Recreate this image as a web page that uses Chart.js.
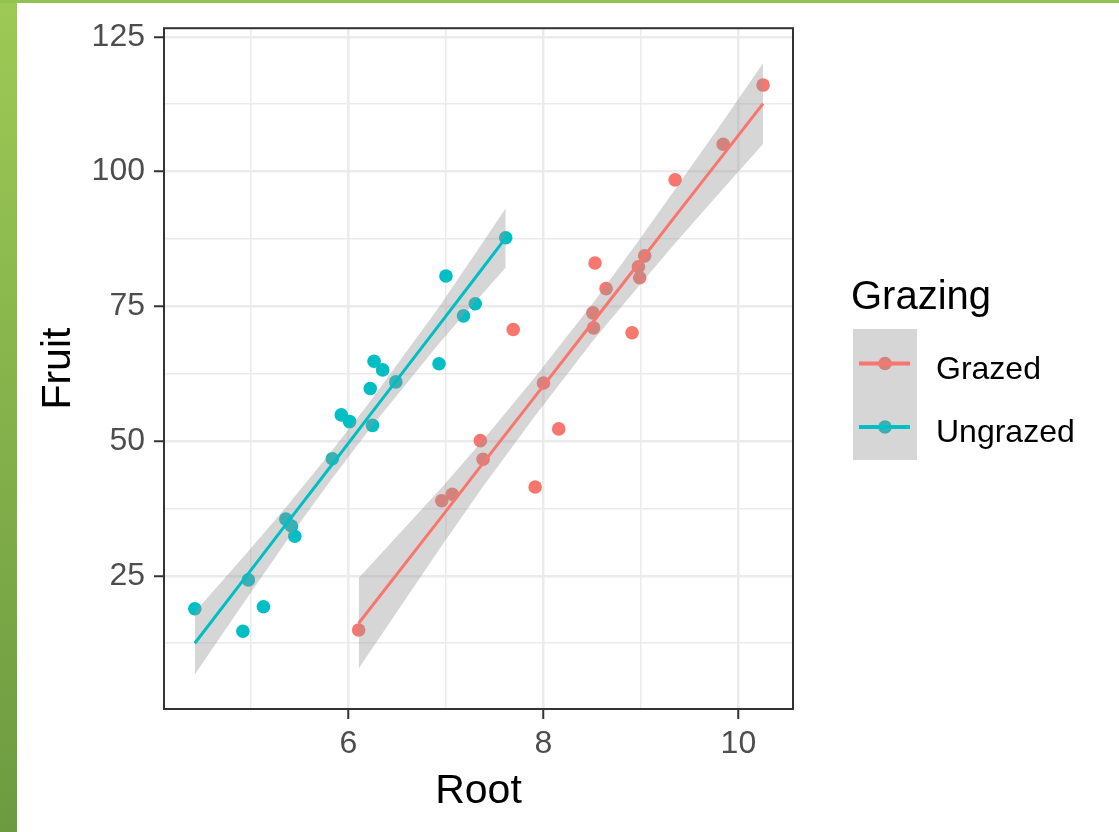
<!DOCTYPE html>
<html>
<head>
<meta charset="utf-8">
<script src="https://cdn.jsdelivr.net/npm/chart.js@4/dist/chart.umd.min.js"></script>
<style>
    html, body { margin: 0; padding: 0; background: #fff; }
    #wrap { position: relative; width: 1119px; height: 832px; overflow: hidden; }
    .edgeLeft { position: absolute; left: 0; top: 0; width: 17px; height: 832px; background: linear-gradient(#9dca55, #6c9a40); }
    .edgeTop { position: absolute; left: 0; top: 0; width: 1119px; height: 3px; background: #92c24f; }
    canvas { position: absolute; left: 0; top: 0; }
</style>
</head>
<body>
<div id="wrap">
    <div class="edgeLeft"></div>
    <div class="edgeTop"></div>
    <canvas id="chart" width="1119" height="832"></canvas>
</div>
<script>
// observed points
const grazedRoot = [10.253, 6.958, 8.001, 9.039, 8.910, 6.106, 7.691, 8.988, 8.975, 9.844,
    8.508, 7.354, 8.643, 7.916, 9.351, 7.066, 8.158, 7.382, 8.515, 8.530];
const grazedFruit = [116.05, 38.94, 60.77, 84.37, 70.11, 14.95, 70.70, 80.31, 82.35, 105.07,
    73.79, 50.08, 78.28, 41.48, 98.47, 40.15, 52.26, 46.64, 71.01, 83.03];
const ungrazedRoot = [6.225, 6.487, 4.919, 5.130, 5.417, 5.359, 7.614, 6.352, 4.975, 6.930,
    6.248, 5.451, 6.013, 5.928, 6.264, 7.181, 7.001, 4.426, 7.302, 5.836];
const ungrazedFruit = [59.77, 60.98, 14.73, 19.28, 34.25, 35.53, 87.73, 63.21, 24.25, 64.34,
    52.92, 32.35, 53.61, 54.86, 64.81, 73.24, 80.64, 18.89, 75.49, 46.73];

// fitted line and confidence band
const grazedFitRoot = [6.106, 6.958, 7.382, 7.916, 8.509, 8.975, 9.351, 9.844, 10.253];
const grazedFit = [16.2, 36.0, 45.9, 58.3, 72.1, 82.9, 91.7, 103.1, 112.6];
const grazedLow = [7.8, 30.6, 41.6, 54.7, 68.6, 78.7, 86.7, 96.8, 105.1];
const grazedHigh = [24.6, 41.4, 50.2, 61.9, 75.6, 87.1, 96.7, 109.4, 120.1];

const ungrazedFitRoot = [4.426, 4.919, 5.359, 5.836, 6.225, 6.930, 7.302, 7.614];
const ungrazedFit = [12.5, 24.1, 34.5, 45.7, 54.9, 71.5, 80.3, 87.7];
const ungrazedLow = [6.7, 19.8, 31.3, 43.1, 52.4, 68.1, 75.8, 82.2];
const ungrazedHigh = [18.3, 28.4, 37.7, 48.3, 57.4, 74.9, 84.8, 93.2];

const groups = ['Grazed', 'Ungrazed'];
const groupColors = ['#F8766D', '#00BFC4'];
const xTickLabels = [6, 8, 10];
const yTickLabels = [25, 50, 75, 100, 125];

const FONT = '"Liberation Sans", Arial, sans-serif';
const BAND = 'rgba(153,153,153,0.4)';

function pts(xs, ys) {
    return xs.map((x, i) => ({ x: x, y: ys[i] }));
}

function pointSet(label, xs, ys, color) {
    return {
        label: label, data: pts(xs, ys), showLine: false, order: 2,
        pointRadius: 6.8, pointBorderWidth: 0, pointBackgroundColor: color
    };
}

function bandSet(xs, ys, fillTarget) {
    return {
        data: pts(xs, ys), order: 1, borderWidth: 0, pointRadius: 0,
        fill: fillTarget === undefined ? false : { target: fillTarget },
        backgroundColor: BAND
    };
}

function lineSet(xs, ys, color) {
    return {
        data: pts(xs, ys), order: 0, borderColor: color, borderWidth: 3,
        pointRadius: 0, fill: false
    };
}

const legendKeys = {
    id: 'legendKeys',
    afterDraw(chart) {
        const { ctx } = chart;
        ctx.save();
        ctx.fillStyle = '#000';
        ctx.textBaseline = 'alphabetic';
        ctx.font = '40px ' + FONT;
        ctx.fillText('Grazing', 851, 309);

        const keyY = [363.5, 427];
        groups.forEach((g, i) => {
            ctx.beginPath();
            ctx.arc(885, keyY[i], 6.8, 0, Math.PI * 2);
            ctx.fillStyle = groupColors[i];
            ctx.fill();
        });
        ctx.fillStyle = BAND;
        ctx.fillRect(853, 329, 64, 131);
        groups.forEach((g, i) => {
            ctx.beginPath();
            ctx.moveTo(859, keyY[i]);
            ctx.lineTo(910, keyY[i]);
            ctx.strokeStyle = groupColors[i];
            ctx.lineWidth = 4;
            ctx.stroke();
            ctx.fillStyle = '#000';
            ctx.font = '32px ' + FONT;
            ctx.fillText(g, 936, keyY[i] + 15);
        });
        ctx.restore();
    }
};

const panelBorder = {
    id: 'panelBorder',
    afterDatasetsDraw(chart) {
        const { ctx, chartArea: a } = chart;
        ctx.save();
        ctx.strokeStyle = '#333333';
        ctx.lineWidth = 2;
        ctx.strokeRect(a.left, a.top, a.right - a.left, a.bottom - a.top);
        ctx.restore();
    }
};

new Chart(document.getElementById('chart'), {
    type: 'line',
    data: {
        datasets: [
            pointSet('Grazed', grazedRoot, grazedFruit, groupColors[0]),
            pointSet('Ungrazed', ungrazedRoot, ungrazedFruit, groupColors[1]),
            bandSet(grazedFitRoot, grazedHigh, 3),
            bandSet(grazedFitRoot, grazedLow),
            bandSet(ungrazedFitRoot, ungrazedHigh, 5),
            bandSet(ungrazedFitRoot, ungrazedLow),
            lineSet(grazedFitRoot, grazedFit, groupColors[0]),
            lineSet(ungrazedFitRoot, ungrazedFit, groupColors[1])
        ]
    },
    options: {
        responsive: false,
        animation: false,
        events: [],
        layout: { padding: { left: 0, top: 23, right: 326, bottom: 0 } },
        plugins: { legend: { display: false }, tooltip: { enabled: false } },
        scales: {
            x: {
                type: 'linear', min: 4.11, max: 10.56,
                afterFit(scale) { scale.height = 123; },
                border: { display: false },
                grid: {
                    color: '#EBEBEB',
                    lineWidth: (c) => xTickLabels.includes(c.tick && c.tick.value) ? 2.5 : 1.5,
                    tickLength: 10, tickWidth: 2,
                    tickColor: (c) => xTickLabels.includes(c.tick && c.tick.value) ? '#333333' : 'rgba(0,0,0,0)'
                },
                ticks: {
                    stepSize: 1, includeBounds: false, autoSkip: false, maxRotation: 0,
                    padding: 6, color: '#4D4D4D', font: { family: FONT, size: 32 },
                    callback: (v) => xTickLabels.includes(v) ? String(v) : ''
                },
                title: {
                    display: true, text: 'Root', color: '#000',
                    font: { family: FONT, size: 41 }, padding: { top: 0, bottom: 16 }
                }
            },
            y: {
                type: 'linear', min: 0.3, max: 126.6,
                afterFit(scale) { scale.width = 164; },
                border: { display: false },
                grid: {
                    color: '#EBEBEB',
                    lineWidth: (c) => yTickLabels.includes(c.tick && c.tick.value) ? 2.5 : 1.5,
                    tickLength: 10, tickWidth: 2,
                    tickColor: (c) => yTickLabels.includes(c.tick && c.tick.value) ? '#333333' : 'rgba(0,0,0,0)'
                },
                ticks: {
                    stepSize: 12.5, includeBounds: false, autoSkip: false,
                    padding: 9, color: '#4D4D4D', font: { family: FONT, size: 32 },
                    callback: (v) => yTickLabels.includes(v) ? String(v) : ''
                },
                title: {
                    display: true, text: 'Fruit', color: '#000',
                    font: { family: FONT, size: 41 }, padding: { top: 34, bottom: 0 }
                }
            }
        }
    },
    plugins: [panelBorder, legendKeys]
});
</script>
</body>
</html>
